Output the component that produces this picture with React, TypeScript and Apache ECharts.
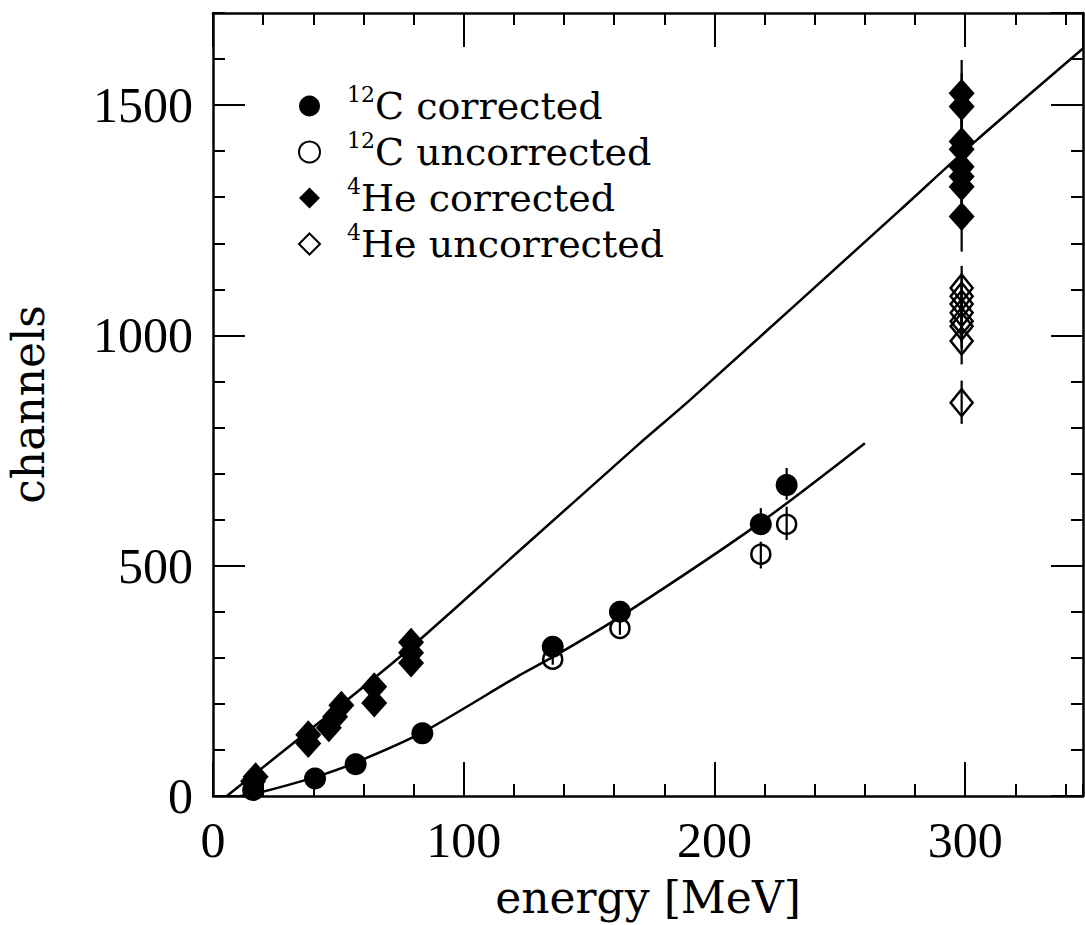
import React, { useEffect, useRef } from "react";
import * as echarts from "echarts";

// ---- axis setup ----
const X_MAX = 347;
const Y_MAX = 1700;
const X_MAJOR = 100;
const X_MINOR = 20;
const Y_MAJOR = 500;
const Y_MINOR = 100;

// ---- data: [energy MeV, channels] ----
const c12Corrected = [
  [16, 13], [40.7, 38], [56.9, 69], [83.5, 136],
  [135.5, 324], [162.3, 400], [218.5, 590], [228.8, 675],
];
const c12Uncorrected = [
  [135.5, 297], [162.3, 364], [218.5, 525], [228.8, 590],
];
const he4Corrected = [
  [16, 32], [17, 42], [38, 114], [38, 133], [46.2, 148], [48.7, 172], [51.2, 197],
  [64.3, 202], [64.3, 237], [79, 289], [79, 311], [79, 334],
  [298.6, 1526], [298.6, 1497], [298.6, 1421], [298.6, 1404], [298.6, 1366],
  [298.6, 1345], [298.6, 1323], [298.6, 1258],
];
const he4Uncorrected = [
  [298.6, 1103], [298.6, 1085], [298.6, 1068], [298.6, 1049], [298.6, 1031],
  [298.6, 1020], [298.6, 988], [298.6, 854],
];

// ---- error bars: [energy, low, high] ----
const c12CorrectedErr = [
  [135.5, 312, 336], [162.3, 388, 412], [218.5, 567, 625], [228.8, 643, 712],
];
const c12UncorrectedErr = [
  [135.5, 285, 309], [162.3, 350, 378], [218.5, 494, 552], [228.8, 556, 628],
];
const he4CorrectedErr = [
  [298.6, 1454, 1598], [298.6, 1425, 1569], [298.6, 1351, 1491], [298.6, 1334, 1474],
  [298.6, 1296, 1436], [298.6, 1275, 1415], [298.6, 1253, 1393], [298.6, 1182, 1334],
];
const he4UncorrectedErr = [
  [298.6, 1055, 1151], [298.6, 1037, 1133], [298.6, 1020, 1116], [298.6, 1001, 1097],
  [298.6, 983, 1079], [298.6, 972, 1068], [298.6, 937, 1039], [298.6, 808, 902],
];

// ---- fit curves ----
const fitHe = [
  [5.5, 0], [73.9, 299], [122.5, 534], [170.3, 766], [190.3, 860],
  [274, 1272], [304.6, 1424], [347, 1623],
];
const fitC = [
  [11, 0], [17.9, 6.5], [40.7, 41], [56.6, 72], [83.2, 137], [122.5, 263],
  [135.6, 302], [162.3, 389], [218.2, 593], [260, 766],
];

const legendNames = ["12C corrected", "12C uncorrected", "4He corrected", "4He uncorrected"];
const xTitle = "energy [MeV]";
const yTitle = "channels";

export default function App() {
  const ref = useRef<HTMLDivElement>(null);

  useEffect(() => {
    document.body.style.margin = "0";
    if (!ref.current) return;
    const chart = echarts.init(ref.current, null, { renderer: "svg" });

    const gridRect = { left: 213, top: 13, width: 870, height: 783, containLabel: false, outerBoundsMode: "none" };
    const black = "#000";
    const tickFont = "Liberation Serif";
    const textFont = "DejaVu Serif";

    const mkX = (gridIndex: number, position: string, interval: number, len: number, main: boolean, line: boolean) => ({
      type: "value",
      gridIndex,
      position,
      min: 0,
      max: X_MAX,
      interval,
      splitLine: { show: false },
      axisLine: { show: line, onZero: false, lineStyle: { color: black, width: 2.5 } },
      axisTick: { show: true, inside: true, length: len, lineStyle: { color: black, width: 2 } },
      axisLabel: main
        ? {
            show: true, showMaxLabel: false, margin: 19, fontFamily: tickFont, fontSize: 50, color: black,
            formatter: (v: number) => String(v),
          }
        : { show: false },
      ...(main
        ? {
            name: xTitle,
            nameLocation: "middle",
            nameGap: 79,
            nameTextStyle: { fontFamily: textFont, fontSize: 44, color: black },
          }
        : {}),
    });
    const mkY = (gridIndex: number, position: string, interval: number, len: number, main: boolean, line: boolean) => ({
      type: "value",
      gridIndex,
      position,
      min: 0,
      max: Y_MAX,
      interval,
      splitLine: { show: false },
      axisLine: { show: line, onZero: false, lineStyle: { color: black, width: 2.5 } },
      axisTick: { show: true, inside: true, length: len, lineStyle: { color: black, width: 2 } },
      axisLabel: main
        ? {
            show: true, showMaxLabel: false, margin: 20, fontFamily: tickFont, fontSize: 50, color: black,
            padding: [24, 0, 0, 0], formatter: (v: number) => String(v),
          }
        : { show: false },
      ...(main
        ? {
            name: yTitle,
            nameLocation: "middle",
            nameGap: 163,
            nameRotate: 90,
            nameTextStyle: { fontFamily: textFont, fontSize: 44, lineHeight: 44, color: black },
          }
        : {}),
    });

    const errRender = (params: any, api: any) => {
      const x = api.value(0);
      const p1 = api.coord([x, api.value(1)]);
      const p2 = api.coord([x, api.value(2)]);
      return {
        type: "line",
        shape: { x1: p1[0], y1: p1[1], x2: p2[0], y2: p2[1] },
        style: { stroke: black, lineWidth: 2.2 },
      };
    };
    const errSeries = (data: number[][]) => ({
      type: "custom",
      xAxisIndex: 0,
      yAxisIndex: 0,
      data,
      encode: { x: 0, y: [1, 2] },
      renderItem: errRender,
      silent: true,
      z: 3,
    });
    const fitSeries = (data: number[][]) => ({
      type: "line",
      xAxisIndex: 0,
      yAxisIndex: 0,
      data,
      showSymbol: false,
      symbol: "none",
      smooth: 0.25,
      lineStyle: { color: black, width: 2.5 },
      silent: true,
      z: 2,
    });

    const option: any = {
      animation: false,
      backgroundColor: "#fff",
      grid: [gridRect, gridRect, gridRect, gridRect],
      xAxis: [
        mkX(0, "bottom", X_MAJOR, 34, true, true),
        mkX(1, "top", X_MAJOR, 34, false, true),
        mkX(2, "bottom", X_MINOR, 12, false, false),
        mkX(3, "top", X_MINOR, 12, false, false),
      ],
      yAxis: [
        mkY(0, "left", Y_MAJOR, 32, true, true),
        mkY(1, "right", Y_MAJOR, 32, false, true),
        mkY(2, "left", Y_MINOR, 12, false, false),
        mkY(3, "right", Y_MINOR, 12, false, false),
      ],
      legend: {
        data: legendNames,
        orient: "vertical",
        left: 298,
        top: 83,
        padding: 0,
        itemGap: 0,
        itemWidth: 21,
        itemHeight: 21,
        selectedMode: false,
        formatter: (name: string) => {
          const m = name.match(/^(\d+)(.*)$/);
          return m ? `{sup|${m[1]}}{base|${m[2]}}` : name;
        },
        textStyle: {
          color: black,
          fontFamily: textFont,
          fontSize: 38,
          lineHeight: 46,
          padding: [0, 0, 0, 22],
          rich: {
            sup: { fontFamily: textFont, fontSize: 22, lineHeight: 34, verticalAlign: "top", color: black },
            base: { fontFamily: textFont, fontSize: 38, lineHeight: 46, verticalAlign: "middle", color: black },
          },
        },
      },
      series: [
        fitSeries(fitHe),
        fitSeries(fitC),
        errSeries(c12UncorrectedErr),
        errSeries(he4UncorrectedErr),
        errSeries(c12CorrectedErr),
        errSeries(he4CorrectedErr),
        {
          name: "12C uncorrected",
          type: "scatter",
          data: c12Uncorrected,
          symbol: "circle",
          symbolSize: 19,
          itemStyle: { color: "rgba(0,0,0,0)", borderColor: black, borderWidth: 2.5, opacity: 1 },
          z: 4,
        },
        {
          name: "4He uncorrected",
          type: "scatter",
          data: he4Uncorrected,
          symbol: "diamond",
          symbolSize: [22, 27],
          itemStyle: { color: "rgba(0,0,0,0)", borderColor: black, borderWidth: 2.5, opacity: 1 },
          z: 4,
        },
        {
          name: "12C corrected",
          type: "scatter",
          data: c12Corrected,
          symbol: "circle",
          symbolSize: 22,
          itemStyle: { color: black, opacity: 1 },
          z: 5,
        },
        {
          name: "4He corrected",
          type: "scatter",
          data: he4Corrected,
          symbol: "diamond",
          symbolSize: [26, 29],
          itemStyle: { color: black, opacity: 1 },
          z: 5,
        },
      ],
    };

    chart.setOption(option);
    return () => {
      chart.dispose();
    };
  }, []);

  return <div ref={ref} style={{ width: 1085, height: 925 }} />;
}
